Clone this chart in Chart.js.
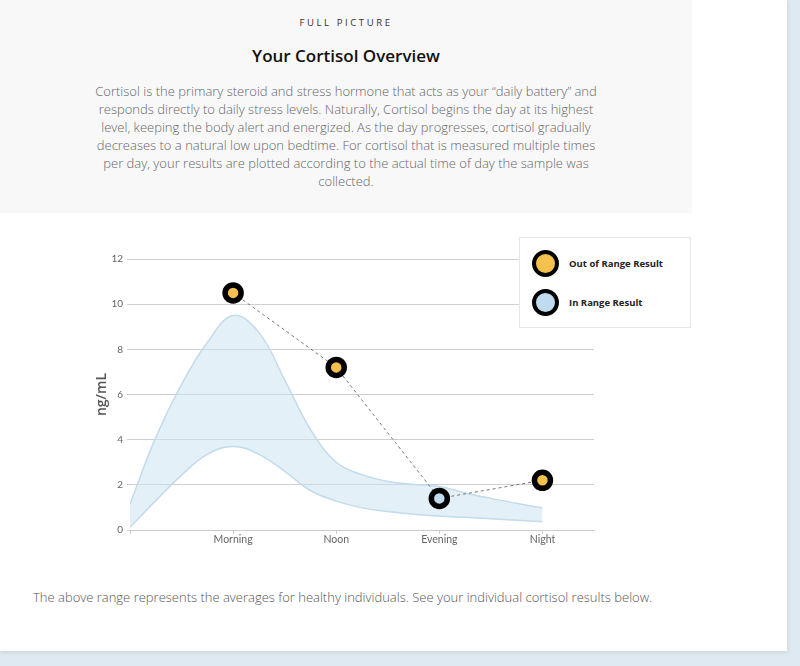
<!DOCTYPE html>
<html>
<head>
<meta charset="utf-8">
<script src="https://cdn.jsdelivr.net/npm/chart.js@4"></script>
<style>
  body { margin: 0; background: #dfe9f1; font-family: "Open Sans", sans-serif; }
  #card { position: absolute; left: 0; top: 0; width: 787px; height: 651px; background: #fff;
          box-shadow: 0 1px 4px rgba(0,0,0,0.12); }
  #head { position: absolute; left: 0; top: 0; width: 692px; height: 213px; background: #f8f8f8; }
  #kicker { position: absolute; top: 16px; width: 692px; text-align: center; font-size: 9.5px;
            letter-spacing: 2.6px; color: #333; }
  #title { position: absolute; top: 44px; width: 692px; text-align: center; font-size: 17px;
           font-weight: 600; color: #111; }
  #intro { position: absolute; top: 82px; width: 692px; text-align: center; font-size: 13px;
           line-height: 18px; color: #666; font-weight: 300; }
  #chartBox { position: absolute; left: 70px; top: 240px; width: 540px; height: 320px; }
  #legend { position: absolute; left: 519px; top: 237px; width: 172px; height: 91px; background: #fff;
            border: 1px solid #e6e6e6; box-sizing: border-box; }
  .item { position: absolute; left: 12px; height: 28px; font-size: 9.5px; font-weight: 700; color: #222;
          display: flex; align-items: center; }
  .dot { width: 19px; height: 19px; border: 4.5px solid #000; border-radius: 50%; margin-right: 10px; }
  #note { position: absolute; left: 33px; top: 588px; font-size: 13px; color: #555; font-weight: 300; }
</style>
</head>
<body>
<div id="card">
  <div id="head">
    <div id="kicker">FULL PICTURE</div>
    <div id="title">Your Cortisol Overview</div>
    <div id="intro">Cortisol is the primary steroid and stress hormone that acts as your “daily battery” and<br>
      responds directly to daily stress levels. Naturally, Cortisol begins the day at its highest<br>
      level, keeping the body alert and energized. As the day progresses, cortisol gradually<br>
      decreases to a natural low upon bedtime. For cortisol that is measured multiple times<br>
      per day, your results are plotted according to the actual time of day the sample was<br>
      collected.</div>
  </div>
  <div id="chartBox"><canvas id="myChart"></canvas></div>
  <div id="legend"></div>
  <div id="note">The above range represents the averages for healthy individuals. See your individual cortisol results below.</div>
</div>
<script>
// time slots on the x axis (0 is the unlabeled start)
var slotLabels = ['', 'Morning', 'Noon', 'Evening', 'Night'];
var slotTicks = [0, 1, 2, 3, 4];

// healthy range band
var rangeX =     [0,    0.25, 0.5,  0.75, 1,   1.25, 1.5,  1.75, 2,    2.25, 2.5,  2.75, 3,    3.25, 3.5,  3.75, 4];
var rangeUpper = [1.15, 4.1,  6.45, 8.3,  9.5, 8.75, 6.65, 4.45, 3.0,  2.45, 2.15, 2.02, 1.93, 1.64, 1.4,  1.18, 0.97];
var rangeLower = [0.12, 1.3,  2.43, 3.35, 3.7, 3.35, 2.6,  1.75, 1.28, 0.98, 0.82, 0.7,  0.62, 0.56, 0.5,  0.43, 0.37];

// sample results
var resultX = [1, 2, 3, 4];
var resultValues = [10.5, 7.2, 1.4, 2.2];
var resultInRange = [false, false, true, false];

var legendLabels = ['Out of Range Result', 'In Range Result'];
var legendColors = ['#f4c14f', '#bfdcef'];

function toPoints(xs, ys) {
	var pts = [];
	for (let i = 0; i < xs.length; i++) {
		pts.push({x: xs[i], y: ys[i]});
	}
	return pts;
}

var pointColors = resultInRange.map(function (ok) { return ok ? legendColors[1] : legendColors[0]; });

new Chart('myChart', {
  type: 'line',
  data: {
    datasets: [{
      data: toPoints(resultX, resultValues),
      borderColor: '#777',
      borderWidth: 1,
      borderDash: [3, 3],
      pointRadius: 8,
      pointHoverRadius: 8,
      pointBorderWidth: 5.5,
      pointBorderColor: '#000',
      pointBackgroundColor: pointColors,
      fill: false,
      tension: 0
    }, {
      data: toPoints(rangeX, rangeLower),
      borderColor: '#c3dbeb',
      borderWidth: 1.5,
      pointRadius: 0,
      fill: false,
      tension: 0.4
    }, {
      data: toPoints(rangeX, rangeUpper),
      borderColor: '#c3dbeb',
      borderWidth: 1.5,
      backgroundColor: 'rgba(200,225,242,0.5)',
      pointRadius: 0,
      fill: '-1',
      tension: 0.4
    }]
  },
  options: {
    responsive: true,
    maintainAspectRatio: false,
    animation: false,
    layout: {padding: {left: 20, right: 16, top: 19, bottom: 6}},
    plugins: {legend: {display: false}, tooltip: {enabled: false}},
    scales: {
      x: {
        type: 'linear',
        min: 0,
        max: 4.5,
        afterBuildTicks: function (scale) {
          scale.ticks = slotTicks.map(function (v) { return {value: v}; });
        },
        afterFit: function (scale) { scale.height = 24; },
        grid: {drawOnChartArea: false, drawTicks: true, tickLength: 4, color: '#ccc'},
        border: {color: '#ccc'},
        ticks: {
          padding: -1,
          color: '#666',
          font: {family: 'Lato', size: 10.5},
          callback: function (v) { return slotLabels[v] || ''; }
        }
      },
      y: {
        min: 0,
        max: 12,
        afterFit: function (scale) { scale.width = 40; },
        grid: {color: '#d0d0d0', tickLength: 3},
        border: {display: false},
        ticks: {stepSize: 2, padding: 4, color: '#666', font: {family: 'Lato', size: 10}},
        title: {display: true, text: 'ng/mL', color: '#555', font: {family: 'Open Sans', size: 14, weight: '600'}}
      }
    }
  }
});

// legend box
var legend = document.getElementById('legend');
for (let i = 0; i < legendLabels.length; i++) {
	var item = document.createElement('div');
	item.className = 'item';
	item.style.top = (11 + i * 39) + 'px';
	item.innerHTML = '<span class="dot" style="background:' + legendColors[i] + '"></span>' + legendLabels[i];
	legend.appendChild(item);
}
</script>
</body>
</html>
